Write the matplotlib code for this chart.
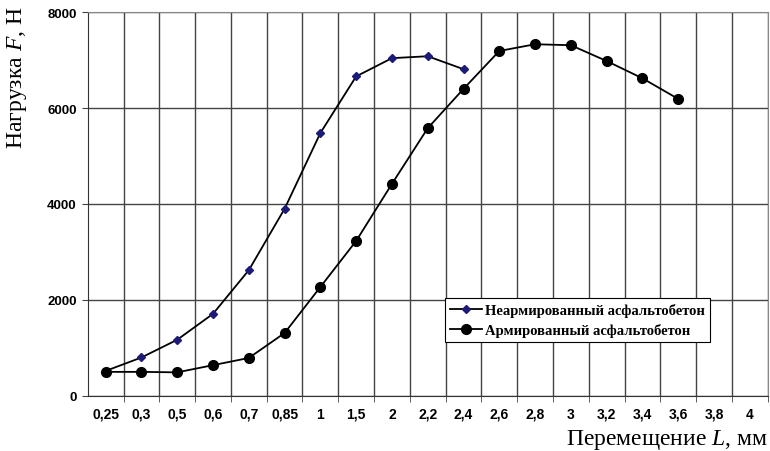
import matplotlib.pyplot as plt
import numpy as np

plt.rcParams['mathtext.fontset'] = 'custom'
plt.rcParams['mathtext.it'] = 'Liberation Serif:italic'
plt.rcParams['mathtext.rm'] = 'Liberation Serif'

# displacement categories (mm) and loads (N)
x_labels = ['0,25', '0,3', '0,5', '0,6', '0,7', '0,85', '1', '1,5', '2', '2,2',
            '2,4', '2,6', '2,8', '3', '3,2', '3,4', '3,6', '3,8', '4']
plain = [520, 800, 1170, 1710, 2620, 3900, 5480, 6660, 7040, 7080, 6810]
reinforced = [500, 500, 490, 640, 790, 1310, 2270, 3230, 4420, 5580, 6400,
              7190, 7330, 7310, 6980, 6620, 6190]

fig = plt.figure(figsize=(7.7, 4.52), dpi=100)
ax = fig.add_axes([0.114, 0.122, 0.883, 0.849])

x = np.arange(len(x_labels))
ax.plot(x[:len(plain)], plain, color='black', lw=1.3, marker='D', ms=4.5,
        mfc='#1c1c78', mec='#1c1c78', label='Неармированный асфальтобетон')
ax.plot(x[:len(reinforced)], reinforced, color='black', lw=1.3, marker='o', ms=7,
        mfc='black', mec='black', label='Армированный асфальтобетон')

ax.set_xlim(-0.5, len(x_labels) - 0.5)
ax.set_ylim(0, 8000)
ax.set_yticks([0, 2000, 4000, 6000, 8000])
ax.set_xticks(x)
ax.set_xticklabels(x_labels, fontfamily='Liberation Sans', fontweight='bold', fontsize=10)
for t in ax.get_yticklabels():
    t.set_fontfamily('Liberation Sans')
    t.set_fontweight('bold')
    t.set_fontsize(9.5)
ax.set_xticks(np.arange(len(x_labels)) + 0.5, minor=True)
ax.tick_params(axis='x', which='major', length=0, pad=8)
ax.tick_params(axis='x', which='minor', length=4, direction='out', color='#444444')
ax.tick_params(axis='y', length=4, direction='out', color='#444444', pad=4)

ax.grid(axis='y', which='major', color='#444444', lw=1)
ax.grid(axis='x', which='minor', color='#444444', lw=1)
ax.set_axisbelow(True)
for s in ['top', 'right']:
    ax.spines[s].set_color('#888888')
for s in ['left', 'bottom']:
    ax.spines[s].set_color('#333333')

fig.text(0.022, 0.985, 'Нагрузка $\\mathit{F}$, Н', rotation=90, ha='center', va='top',
         fontfamily='Liberation Serif', fontsize=17)
fig.text(0.998, 0.0, 'Перемещение $\\mathit{L}$, мм', ha='right', va='bottom',
         fontfamily='Liberation Serif', fontsize=17)

leg = ax.legend(loc='upper left', bbox_to_anchor=(0.515, 0.275), frameon=True,
                fancybox=False, edgecolor='black', framealpha=1,
                prop={'family': 'Liberation Serif', 'weight': 'bold', 'size': 10.5},
                handlelength=2.2, borderpad=0.35, labelspacing=0.45, handletextpad=0.2)
leg.get_frame().set_linewidth(0.8)

fig.savefig('out.png', dpi=100)
